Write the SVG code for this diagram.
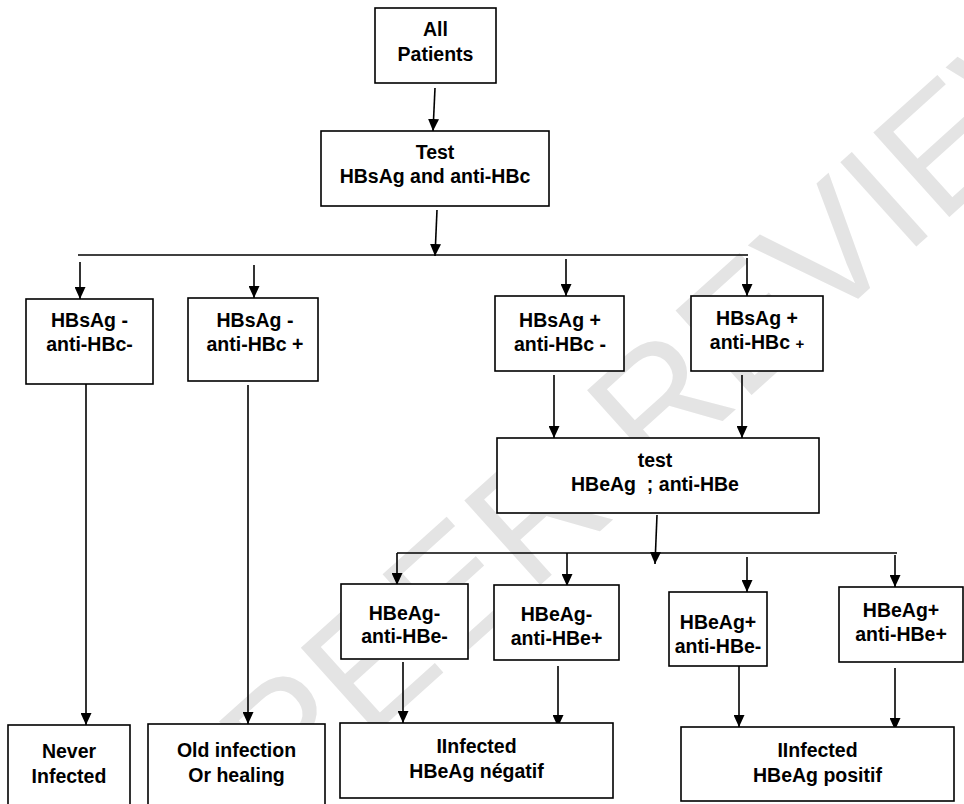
<svg xmlns="http://www.w3.org/2000/svg" width="964" height="804" viewBox="0 0 964 804">
<defs>
<marker id="ah" markerUnits="userSpaceOnUse" markerWidth="12" markerHeight="11" refX="12" refY="5.5" orient="auto">
<path d="M0,0 L12,5.5 L0,11 z" fill="#000"/>
</marker>
<style>
.b{fill:#fff;stroke:#000;stroke-width:1.6}
.t{font-family:"Liberation Sans",Arial,sans-serif;font-weight:bold;font-size:19.5px;text-anchor:middle;fill:#000}
.c{fill:none;stroke:#000;stroke-width:1.6}
.a{fill:none;stroke:#000;stroke-width:1.6;marker-end:url(#ah)}
.wm{font-family:"Liberation Sans",Arial,sans-serif;font-size:165px;fill:#e4e4e4}
</style>
</defs>
<rect width="964" height="804" fill="#fff"/>
<g id="watermark"><text class="wm" transform="translate(285,815) rotate(-42)">PEER REVIEW</text></g>
<g id="connectors">
<path class="a" d="M435,88 L433,131"/>
<path class="a" d="M437,210 L435,256"/>
<path class="c" d="M78,255 L748,255"/>
<path class="a" d="M80,262 L80,299"/>
<path class="a" d="M254,265 L254,298"/>
<path class="a" d="M566,259 L566,296"/>
<path class="a" d="M747,258 L747,296"/>
<path class="a" d="M86,381 L86,725"/>
<path class="a" d="M248,385 L248,724"/>
<path class="a" d="M554,375 L554,438"/>
<path class="a" d="M742,375 L742,438"/>
<path class="a" d="M657,515 L655,564"/>
<path class="c" d="M397,553 L897,553"/>
<path class="a" d="M397,553 L397,585"/>
<path class="a" d="M567,553 L567,586"/>
<path class="a" d="M747,557 L747,592"/>
<path class="a" d="M895,555 L895,587"/>
<path class="a" d="M403,662 L403,723"/>
<path class="a" d="M558,666 L558,727"/>
<path class="a" d="M739,666 L739,727"/>
<path class="a" d="M895,668 L895,730"/>
</g>
<g id="all-patients"><rect class="b" x="375" y="8" width="121" height="75"/><text class="t" x="435.5" y="36">All</text><text class="t" x="435.5" y="61">Patients</text></g>
<g id="test1"><rect class="b" x="321" y="131" width="228" height="75"/><text class="t" x="435" y="159">Test</text><text class="t" x="435" y="183">HBsAg and anti-HBc</text></g>
<g id="n1"><rect class="b" x="26" y="299" width="127" height="85"/><text class="t" x="89.5" y="327">HBsAg -</text><text class="t" x="89.5" y="351">anti-HBc-</text></g>
<g id="n2"><rect class="b" x="188" y="298" width="130" height="83"/><text class="t" x="255" y="327">HBsAg -</text><text class="t" x="255" y="351">anti-HBc +</text></g>
<g id="n3"><rect class="b" x="495" y="296" width="129" height="75"/><text class="t" x="560" y="327">HBsAg +</text><text class="t" x="560" y="351">anti-HBc -</text></g>
<g id="n4"><rect class="b" x="691" y="296" width="132" height="75"/><text class="t" x="757" y="325">HBsAg +</text><text class="t" x="757" y="349">anti-HBc <tspan font-size="15">+</tspan></text></g>
<g id="test2"><rect class="b" x="497" y="438" width="322" height="75"/><text class="t" x="655" y="467">test</text><text class="t" x="655" y="491" xml:space="preserve">HBeAg  ; anti-HBe</text></g>
<g id="e1"><rect class="b" x="341" y="584" width="127" height="75"/><text class="t" x="404.5" y="620">HBeAg-</text><text class="t" x="404.5" y="643">anti-HBe-</text></g>
<g id="e2"><rect class="b" x="494" y="585" width="125" height="75"/><text class="t" x="556.5" y="621">HBeAg-</text><text class="t" x="556.5" y="645">anti-HBe+</text></g>
<g id="e3"><rect class="b" x="669" y="592" width="98" height="74"/><text class="t" x="718" y="629">HBeAg+</text><text class="t" x="718" y="653">anti-HBe-</text></g>
<g id="e4"><rect class="b" x="839" y="587" width="124" height="75"/><text class="t" x="901" y="617">HBeAg+</text><text class="t" x="901" y="641">anti-HBe+</text></g>
<g id="never"><rect class="b" x="8" y="725" width="122" height="90"/><text class="t" x="69" y="758">Never</text><text class="t" x="69" y="783">Infected</text></g>
<g id="old"><rect class="b" x="148" y="724" width="177" height="90"/><text class="t" x="236.5" y="757">Old infection</text><text class="t" x="236.5" y="782">Or healing</text></g>
<g id="neg"><rect class="b" x="340" y="723" width="273" height="75"/><text class="t" x="476.5" y="753">IInfected</text><text class="t" x="476.5" y="778">HBeAg négatif</text></g>
<g id="pos"><rect class="b" x="681" y="727" width="273" height="74"/><text class="t" x="817.5" y="757">IInfected</text><text class="t" x="817.5" y="782">HBeAg positif</text></g>
</svg>
